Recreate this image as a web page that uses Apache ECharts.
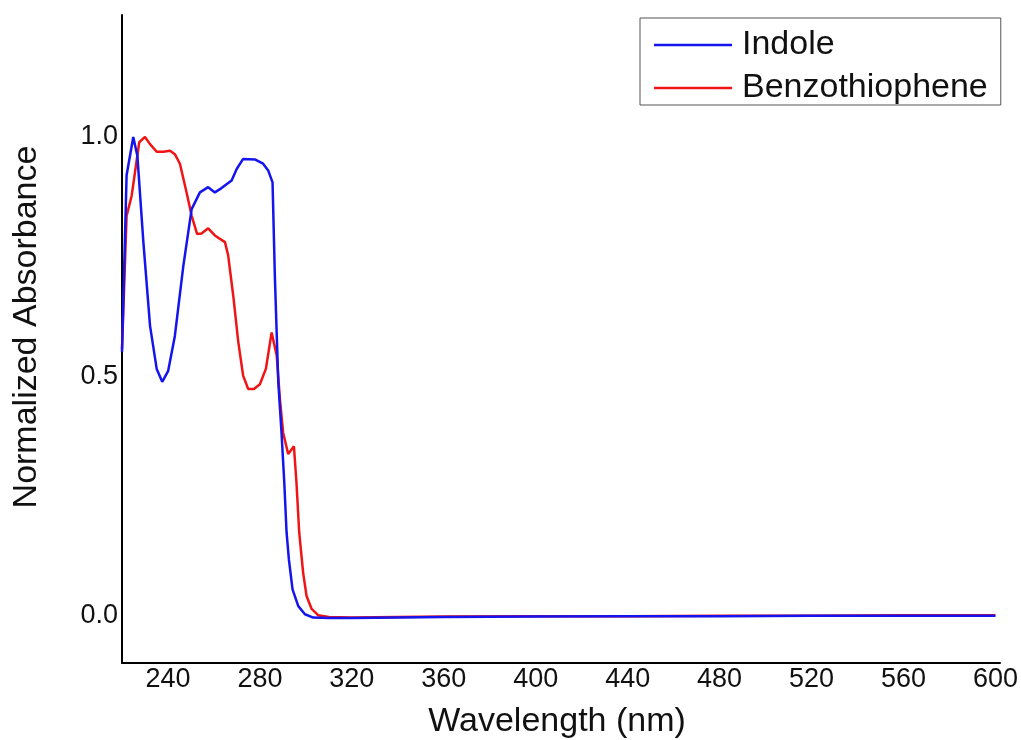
<!DOCTYPE html>
<html>
<head>
<meta charset="utf-8">
<script src="https://cdn.jsdelivr.net/npm/echarts@6/dist/echarts.min.js"></script>
<style>html,body{margin:0;padding:0;background:#fff}#c{width:1021px;height:740px}</style>
</head>
<body>
<div id="c"></div>
<script>
const xTickValues = [240, 280, 320, 360, 400, 440, 480, 520, 560, 600];
const yTickValues = [0.0, 0.5, 1.0];

const indoleWavelength = [220, 222, 224.9, 226.7, 229.3, 232.2, 235.1, 237.5, 240.1, 243, 246.7, 250.3, 253.9, 257.5, 260.4, 263.3, 267.7, 269.9, 272.7, 277.8, 281.4, 283.6, 285.5, 286.5, 287.3, 288, 289.4, 290.6, 291.6, 292.6, 294.2, 296.7, 299.6, 303.2, 310, 320, 360, 400, 440, 480, 520, 560, 600];
const indoleAbs = [0.55, 0.92, 1.0, 0.96, 0.78, 0.605, 0.515, 0.488, 0.511, 0.584, 0.731, 0.849, 0.884, 0.895, 0.884, 0.893, 0.909, 0.933, 0.954, 0.953, 0.944, 0.93, 0.905, 0.71, 0.59, 0.487, 0.382, 0.278, 0.173, 0.117, 0.054, 0.019, 0.002, -0.005, -0.006, -0.006, -0.004, -0.003, -0.002, -0.002, -0.001, -0.001, -0.001];

const benzoWavelength = [220, 222, 224.2, 227.5, 230, 232.2, 235.1, 238, 240.9, 243, 245.2, 248.1, 250.3, 252.7, 254.6, 257.5, 260.4, 264.8, 266.2, 268.4, 270.6, 272.7, 274.9, 277.4, 280, 282.6, 285.1, 287.3, 288.7, 290.1, 292.3, 294.8, 295.9, 297.1, 298.8, 300.3, 302.5, 305.3, 310, 320, 360, 400, 440, 480, 520, 560, 600];
const benzoAbs = [0.556, 0.835, 0.877, 0.989, 1.0, 0.985, 0.969, 0.969, 0.971, 0.964, 0.944, 0.884, 0.835, 0.797, 0.798, 0.809, 0.794, 0.78, 0.752, 0.668, 0.571, 0.501, 0.473, 0.473, 0.483, 0.515, 0.591, 0.543, 0.452, 0.382, 0.337, 0.353, 0.278, 0.173, 0.089, 0.04, 0.013, 0.0, -0.004, -0.005, -0.003, -0.002, -0.002, -0.001, -0.001, 0.0, 0.0];

const seriesNames = ['Indole', 'Benzothiophene'];

function pairs(xs, ys) { return xs.map((x, i) => [x, ys[i]]); }

const chart = echarts.init(document.getElementById('c'), null, {renderer: 'canvas'});
const FONT = '"Liberation Sans", Arial, sans-serif';
chart.setOption({
  animation: false,
  backgroundColor: '#fff',
  grid: {left: 122, top: 15, right: 21, bottom: 77, containLabel: false, outerBoundsMode: 'none'},
  legend: {
    orient: 'vertical', left: 640, top: 18,
    padding: [10, 13, 0, 14], itemGap: 9,
    itemWidth: 78, itemHeight: 2.5, icon: 'rect',
    borderColor: '#555', borderWidth: 1,
    textStyle: {fontFamily: FONT, fontSize: 34, color: '#111', lineHeight: 30, padding: [0, 0, 0, 5]},
    data: seriesNames
  },
  xAxis: {
    type: 'value', min: 220, max: 602,
    name: 'Wavelength (nm)', nameLocation: 'middle', nameGap: 42,
    nameTextStyle: {fontFamily: FONT, fontSize: 34, color: '#111', padding: [0, 8, 0, 0]},
    axisLine: {show: true, onZero: false, lineStyle: {color: '#000', width: 2}},
    axisTick: {show: false},
    splitLine: {show: false},
    axisLabel: {customValues: xTickValues, fontFamily: FONT, fontSize: 27, color: '#111', margin: 3}
  },
  yAxis: {
    type: 'value', min: -0.1, max: 1.255,
    name: 'Normalized Absorbance', nameLocation: 'middle', nameGap: 78,
    nameTextStyle: {fontFamily: FONT, fontSize: 34, color: '#111', padding: [0, 0, 0, 24]},
    axisLine: {show: true, onZero: false, lineStyle: {color: '#000', width: 2}},
    axisTick: {show: false},
    splitLine: {show: false},
    axisLabel: {customValues: yTickValues, fontFamily: FONT, fontSize: 27, color: '#111', margin: 4,
      padding: [6, 0, 0, 0], formatter: v => v.toFixed(1)}
  },
  series: [
    {name: seriesNames[0], type: 'line', data: pairs(indoleWavelength, indoleAbs), symbol: 'none', showSymbol: false,
     lineStyle: {color: '#1414ee', width: 2.5}, itemStyle: {color: '#1414ee'}, z: 3},
    {name: seriesNames[1], type: 'line', data: pairs(benzoWavelength, benzoAbs), symbol: 'none', showSymbol: false,
     lineStyle: {color: '#f01414', width: 2.5}, itemStyle: {color: '#f01414'}, z: 2}
  ]
});
</script>
</body>
</html>
